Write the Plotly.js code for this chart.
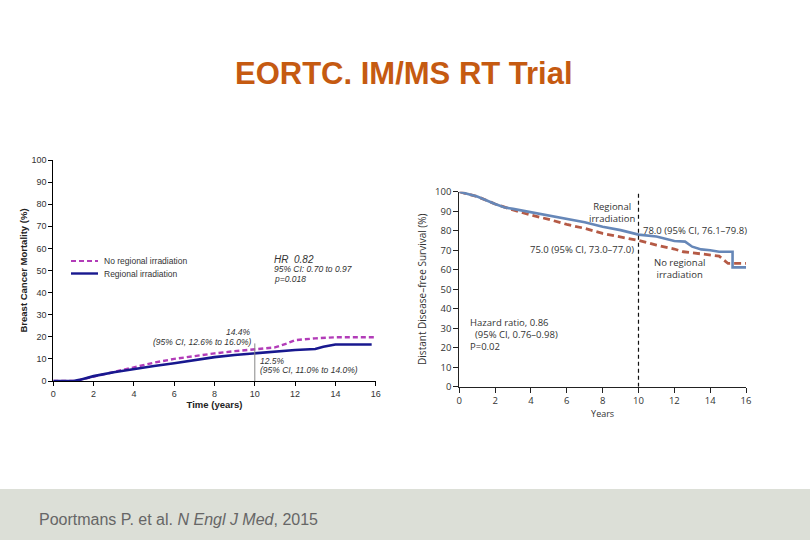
<!DOCTYPE html>
<html>
<head>
<meta charset="utf-8">
<script src="https://cdn.plot.ly/plotly-3.0.1.min.js"></script>
<style>html,body{margin:0;padding:0;background:#fff;}#chart{width:810px;height:540px;}</style>
</head>
<body>
<div id="chart"></div>
<script>
// Left panel: breast cancer mortality (%)
const leftYears = [0, 1.0, 1.3, 2, 3, 4, 5, 6, 7, 8, 9, 10, 11, 11.6, 12, 13, 14, 16];
const leftNoRegional = [0, 0, 0.5, 2, 4.2, 6.3, 8.3, 10.0, 11.3, 12.5, 13.5, 14.4, 15.2, 17, 18.5, 19.3, 19.8, 19.8];
const leftRegYears = [0, 1.0, 1.3, 2, 3, 4, 5, 6, 7, 8, 9, 10, 11, 12, 13, 13.4, 14, 15.8];
const leftRegional = [0, 0, 0.5, 2.2, 4, 5.5, 6.8, 8, 9.5, 10.8, 11.8, 12.5, 13.5, 14, 14.5, 15.5, 16.5, 16.5];

// Right panel: distant disease-free survival (%)
const rightRegYears = [0, 1, 2, 2.5, 3, 4, 5, 6, 7, 8, 9, 10, 11, 12, 12.6, 13, 13.5, 14, 14.5, 15.25, 15.25, 16];
const rightRegional = [100, 97.5, 93.7, 92, 91.2, 89.4, 87.7, 85.8, 84.3, 82, 80.3, 78.0, 77, 74.7, 74.4, 71.8, 70.4, 70, 69.2, 69.2, 61.2, 61.2];
const rightNoYears = [0, 1, 2, 2.5, 3, 4, 5, 6, 7, 8, 9, 10, 11, 12, 12.5, 13, 14, 14.5, 15, 16];
const rightNoRegional = [100, 97.5, 93.7, 92, 90.6, 88, 85.8, 83.2, 81.2, 78.6, 76.9, 75.0, 72.6, 70.6, 69.2, 68.7, 67.5, 67, 63.2, 63.2];

const xTicks = [0, 2, 4, 6, 8, 10, 12, 14, 16];
const yTicks = [0, 10, 20, 30, 40, 50, 60, 70, 80, 90, 100];

const traces = [
  {x: leftYears, y: leftNoRegional, xaxis: 'x', yaxis: 'y', mode: 'lines',
   line: {color: '#b23cb8', width: 2.4, dash: '5px,3px'}, hoverinfo: 'skip'},
  {x: leftRegYears, y: leftRegional, xaxis: 'x', yaxis: 'y', mode: 'lines',
   line: {color: '#18188f', width: 2.6}, hoverinfo: 'skip'},
  {x: rightNoYears, y: rightNoRegional, xaxis: 'x2', yaxis: 'y2', mode: 'lines',
   line: {color: '#b55a45', width: 2.8, dash: '7px,4px'}, hoverinfo: 'skip'},
  {x: rightRegYears, y: rightRegional, xaxis: 'x2', yaxis: 'y2', mode: 'lines',
   line: {color: '#6687b8', width: 2.6}, hoverinfo: 'skip'}
];

const W = 810, H = 540;
const px = v => v / W;
const py = v => 1 - v / H;

const axL = {showgrid: false, zeroline: false, showline: true, linecolor: '#000', linewidth: 1,
  ticks: 'outside', ticklen: 4, tickcolor: '#000', tickfont: {family: 'Liberation Sans, Arial', size: 9, color: '#333'}};
const axR = {showgrid: false, zeroline: false, showline: true, linecolor: '#222', linewidth: 1,
  ticks: 'outside', ticklen: 5, tickcolor: '#222', tickfont: {family: 'Open Sans, Liberation Sans', size: 9.5, color: '#333'}};

const smallL = {family: 'Liberation Sans, Arial', size: 8.5, color: '#333'};
const smallR = {family: 'Open Sans, Liberation Sans', size: 9.5, color: '#333'};

function ann(x, y, text, font, xanchor, extra) {
  return Object.assign({xref: 'paper', yref: 'paper', x: px(x), y: py(y), text: text, showarrow: false,
    font: font, xanchor: xanchor || 'left', yanchor: 'middle'}, extra || {});
}

const layout = {
  width: W, height: H, margin: {l: 0, r: 0, t: 0, b: 0},
  paper_bgcolor: '#fff', plot_bgcolor: 'rgba(0,0,0,0)', showlegend: false,
  xaxis: Object.assign({}, axL, {domain: [px(53.3), px(375.7)], range: [0, 16], tickvals: xTicks, anchor: 'y',
    title: {text: '<b>Time (years)</b>', font: {family: 'Liberation Sans, Arial', size: 9.5, color: '#222'}, standoff: 3}}),
  yaxis: Object.assign({}, axL, {domain: [1 - 381 / H, 1 - 160 / H], range: [0, 100], tickvals: yTicks, anchor: 'x',
    title: {text: '<b>Breast Cancer Mortality (%)</b>', font: {family: 'Liberation Sans, Arial', size: 9.5, color: '#222'}, standoff: 2}}),
  xaxis2: Object.assign({}, axR, {domain: [px(459.3), px(746)], range: [0, 16], tickvals: xTicks, anchor: 'y2',
    title: {text: 'Years', font: {family: 'Open Sans, Liberation Sans', size: 9, color: '#333'}, standoff: 2}}),
  yaxis2: Object.assign({}, axR, {domain: [1 - 386.7 / H, 1 - 191.7 / H], range: [0, 100], tickvals: yTicks, anchor: 'x2',
    title: {text: 'Distant Disease–free Survival (%)', font: {family: 'Open Sans, Liberation Sans', size: 10, color: '#333'}, standoff: 6}}),
  shapes: [
    {type: 'rect', xref: 'paper', yref: 'paper', x0: 0, x1: 1, y0: 0, y1: py(489), fillcolor: '#dcdfd7', line: {width: 0}, layer: 'below'},
    {type: 'line', xref: 'x', yref: 'y', x0: 10, x1: 10, y0: 0, y1: 17, line: {color: '#888', width: 1}},
    {type: 'line', xref: 'x2', yref: 'y2', x0: 10, x1: 10, y0: 0, y1: 100, line: {color: '#111', width: 1.2, dash: '4px,3px'}},
    {type: 'line', xref: 'paper', yref: 'paper', x0: px(71), x1: px(98), y0: py(261), y1: py(261), line: {color: '#b23cb8', width: 1.8, dash: '5px,3px'}},
    {type: 'line', xref: 'paper', yref: 'paper', x0: px(71), x1: px(98), y0: py(273.5), y1: py(273.5), line: {color: '#18188f', width: 2.4}}
  ],
  annotations: [
    ann(404, 73, '<b>EORTC. IM/MS RT Trial</b>', {family: 'Liberation Sans, Arial', size: 31, color: '#c55a11'}, 'center'),
    ann(37, 519, 'Poortmans P. et al. <i>N Engl J Med</i>, 2015', {family: 'Liberation Sans, Arial', size: 16, color: '#666'}, 'left'),
    // left panel
    ann(102, 261, 'No regional irradiation', smallL),
    ann(102, 274, 'Regional irradiation', smallL),
    ann(272, 259, '<i>HR  0.82</i>', {family: 'Liberation Sans, Arial', size: 10, color: '#333'}),
    ann(272, 269, '<i>95% CI: 0.70 to 0.97</i>', smallL),
    ann(272, 279, '<i>p=0.018</i>', smallL),
    ann(253, 332, '<i>14.4%</i>', smallL, 'right'),
    ann(253, 342, '<i>(95% CI, 12.6% to 16.0%)</i>', smallL, 'right'),
    ann(258, 361, '<i>12.5%</i>', smallL),
    ann(258, 370, '<i>(95% CI, 11.0% to 14.0%)</i>', smallL),
    // right panel
    ann(612, 212, 'Regional<br>irradiation', smallR, 'center'),
    ann(641, 230, '78.0 (95% CI, 76.1–79.8)', smallR),
    ann(636, 249, '75.0 (95% CI, 73.0–77.0)', smallR, 'right'),
    ann(679, 268.5, 'No regional<br>irradiation', smallR, 'center'),
    ann(468, 322, 'Hazard ratio, 0.86', smallR),
    ann(473, 334, '(95% CI, 0.76–0.98)', smallR),
    ann(468, 346, 'P=0.02', smallR)
  ]
};

Plotly.newPlot('chart', traces, layout, {displayModeBar: false, staticPlot: true});
</script>
</body>
</html>
